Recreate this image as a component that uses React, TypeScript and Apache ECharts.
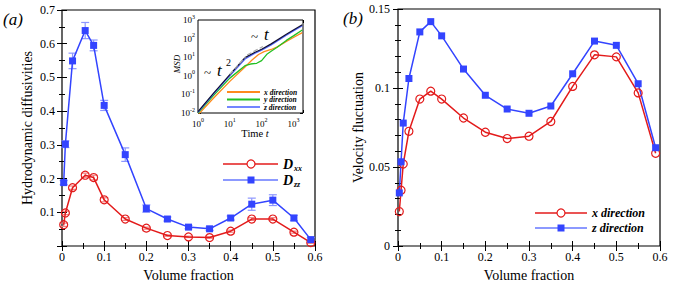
import React, { useEffect, useRef } from 'react';
import * as echarts from 'echarts';

const FONT = 'Liberation Serif, Times New Roman, serif';

// Panel (a): hydrodynamic diffusivities
const phiA = [0.004, 0.008, 0.025, 0.055, 0.075, 0.1, 0.15, 0.2, 0.25, 0.3, 0.35, 0.4, 0.45, 0.5, 0.55, 0.59];
const dxx = [0.063, 0.098, 0.173, 0.21, 0.203, 0.137, 0.08, 0.053, 0.031, 0.027, 0.025, 0.044, 0.08, 0.08, 0.041, 0.01];
const dxxErr = [0.005, 0.005, 0.005, 0.006, 0.007, 0.006, 0.004, 0.003, 0.002, 0.002, 0.002, 0.003, 0.004, 0.004, 0.003, 0.002];
const dzz = [0.188, 0.302, 0.549, 0.639, 0.595, 0.417, 0.271, 0.111, 0.08, 0.056, 0.051, 0.083, 0.124, 0.136, 0.083, 0.019];
const dzzErr = [0.006, 0.01, 0.023, 0.024, 0.016, 0.015, 0.02, 0.011, 0.006, 0.005, 0.005, 0.006, 0.018, 0.016, 0.008, 0.006];

// Panel (b): velocity fluctuation
const phiB = [0.003, 0.007, 0.012, 0.025, 0.05, 0.075, 0.1, 0.15, 0.2, 0.25, 0.3, 0.35, 0.4, 0.45, 0.5, 0.55, 0.59];
const vx = [0.0218, 0.0353, 0.0519, 0.0726, 0.093, 0.098, 0.093, 0.081, 0.072, 0.068, 0.0695, 0.0788, 0.101, 0.121, 0.1197, 0.0969, 0.0587];
const vz = [0.0336, 0.0533, 0.0778, 0.106, 0.1355, 0.142, 0.133, 0.112, 0.0954, 0.0867, 0.084, 0.0886, 0.109, 0.1297, 0.127, 0.1027, 0.0622];

// Inset: MSD vs time (log-log)
const tX = [1, 3, 10, 30, 50, 80, 120, 200, 300, 600, 1000, 1900];
const msdX = [0.008, 0.06, 0.5, 3.0, 7, 14, 20, 26, 35, 70, 115, 210];
const tY = [1, 3, 10, 30, 45, 70, 100, 150, 210, 300, 600, 1000, 1900];
const msdY = [0.01, 0.085, 0.75, 3.5, 4.3, 4.7, 6.5, 15, 22, 33, 80, 140, 290];
const tZ = [1, 3, 10, 30, 60, 100, 200, 600, 1000, 1900];
const msdZ = [0.011, 0.1, 1.0, 8, 16, 24, 45, 150, 260, 500];
const tAll = [1, 3, 10, 30, 60, 100, 200, 600, 1000, 1900];
const msdAll = [0.012, 0.11, 1.15, 9.5, 18, 27, 52, 170, 290, 560];
const tRef2 = [10, 32];
const msdRef2 = [1.2, 11];
const tRef1 = [35, 110];
const msdRef1 = [13, 38];

const RED = '#e31b1b';
const BLUE = '#3344ff';
const RED_ERR = '#f08080';
const BLUE_ERR = '#8c96ff';
const ORANGE = '#ff8a1c';
const GREEN = '#22c022';
const ZBLUE = '#5466ff';

const pairs = (xs: number[], ys: number[]) => xs.map((x, i) => [x, ys[i]]);
const triples = (xs: number[], ys: number[], es: number[]) => xs.map((x, i) => [x, ys[i], es[i]]);

const errRender = (color: string) => (params: any, api: any) => {
  const x = api.value(0);
  const y = api.value(1);
  const e = api.value(2);
  const p1 = api.coord([x, y + e]);
  const p2 = api.coord([x, y - e]);
  const w = 4;
  const style = { stroke: color, lineWidth: 1.2 };
  return {
    type: 'group',
    children: [
      { type: 'line', shape: { x1: p1[0], y1: p1[1], x2: p2[0], y2: p2[1] }, style },
      { type: 'line', shape: { x1: p1[0] - w, y1: p1[1], x2: p1[0] + w, y2: p1[1] }, style },
      { type: 'line', shape: { x1: p2[0] - w, y1: p2[1], x2: p2[0] + w, y2: p2[1] }, style },
    ],
  };
};

const tickLine = { color: '#000', width: 1 };

function valAxis(grid: number, pos: string, min: number, max: number, interval: number, minorSplit: number, label: any, name?: string, nameGap?: number) {
  return {
    type: 'value',
    gridIndex: grid,
    position: pos,
    min,
    max,
    interval,
    axisLine: { show: false },
    axisTick: { show: true, inside: true, length: 5, lineStyle: tickLine },
    minorTick: { show: true, splitNumber: minorSplit, length: 3, lineStyle: tickLine },
    splitLine: { show: false },
    minorSplitLine: { show: false },
    axisLabel: label,
    name: name || '',
    nameLocation: 'middle',
    nameGap: nameGap || 20,
    nameTextStyle: { fontFamily: FONT, fontSize: 14, color: '#000' },
  };
}

const lbl = (fmt: (v: number) => string, margin: number) => ({
  show: true,
  margin,
  fontFamily: FONT,
  fontSize: 12,
  color: '#000',
  formatter: fmt,
});
const noLbl = { show: false };
const fmtNum = (v: number) => String(+v.toFixed(3));

const isDecade = (v: number) => Math.abs(Math.log10(v) - Math.round(Math.log10(v))) < 0.01;
const logLbl = (margin: number) => ({
  show: true,
  margin,
  fontFamily: FONT,
  fontSize: 9,
  color: '#000',
  formatter: (v: number) => (isDecade(v) ? `{b|10}{s|${Math.round(Math.log10(v))}}` : ''),
  rich: {
    b: { fontFamily: FONT, fontSize: 9, color: '#000' },
    s: { fontFamily: FONT, fontSize: 6, color: '#000', padding: [0, 0, 7, 0] },
  },
});

function logAxis(grid: number, pos: string, min: number, max: number, label: any) {
  return {
    type: 'log',
    logBase: 10,
    gridIndex: grid,
    position: pos,
    min,
    max,
    axisLine: { show: false },
    axisTick: { show: true, inside: true, length: 3, lineStyle: tickLine },
    splitLine: { show: false },
    axisLabel: label,
  };
}

const txt = (x: number, y: number, text: string, font: string, extra: any = {}) => ({
  type: 'text',
  x,
  y,
  z: 100,
  style: { text, font, fill: '#000', verticalAlign: 'middle', align: 'left', ...extra },
});
const hline = (x1: number, x2: number, y: number, color: string, w = 1.5) => ({
  type: 'line',
  z: 100,
  shape: { x1, y1: y, x2, y2: y },
  style: { stroke: color, lineWidth: w },
});

const option: any = {
  animation: false,
  backgroundColor: '#fff',
  textStyle: { fontFamily: FONT },
  grid: [
    { left: 62, right: 363, top: 10, bottom: 38, show: true, borderColor: '#000', borderWidth: 1.2, backgroundColor: 'transparent' },
    { left: 398, right: 18, top: 9, bottom: 38, show: true, borderColor: '#000', borderWidth: 1.2, backgroundColor: 'transparent' },
    { left: 198, right: 375, top: 20, bottom: 174, show: true, borderColor: '#000', borderWidth: 1, backgroundColor: '#fff', z: 5 },
  ],
  xAxis: [
    valAxis(0, 'bottom', 0, 0.6, 0.1, 2, lbl(fmtNum, 5), 'Volume fraction', 22),
    valAxis(0, 'top', 0, 0.6, 0.1, 2, noLbl),
    valAxis(1, 'bottom', 0, 0.6, 0.1, 2, lbl(fmtNum, 5), 'Volume fraction', 22),
    valAxis(1, 'top', 0, 0.6, 0.1, 2, noLbl),
    logAxis(2, 'bottom', 1, 2000, logLbl(4)),
    logAxis(2, 'top', 1, 2000, noLbl),
  ],
  yAxis: [
    valAxis(0, 'left', 0, 0.7, 0.1, 2, lbl((v) => (v === 0 ? '' : fmtNum(v)), 7), 'Hydrodynamic diffusivities', 28),
    valAxis(0, 'right', 0, 0.7, 0.1, 2, noLbl),
    valAxis(1, 'left', 0, 0.15, 0.05, 5, lbl(fmtNum, 8), 'Velocity fluctuation', 33),
    valAxis(1, 'right', 0, 0.15, 0.05, 5, noLbl),
    logAxis(2, 'left', 0.01, 1000, logLbl(3)),
    logAxis(2, 'right', 0.01, 1000, noLbl),
  ],
  series: [
    { type: 'custom', xAxisIndex: 0, yAxisIndex: 0, renderItem: errRender(RED_ERR), data: triples(phiA, dxx, dxxErr), encode: { x: 0, y: 1 }, z: 1, clip: false },
    { type: 'custom', xAxisIndex: 0, yAxisIndex: 0, renderItem: errRender(BLUE_ERR), data: triples(phiA, dzz, dzzErr), encode: { x: 0, y: 1 }, z: 1, clip: false },
    {
      type: 'line', xAxisIndex: 0, yAxisIndex: 0, data: pairs(phiA, dxx),
      symbol: 'circle', symbolSize: 8,
      lineStyle: { color: RED, width: 1.5 },
      itemStyle: { color: 'rgba(255,255,255,0)', borderColor: RED, borderWidth: 1.2 },
      z: 3,
    },
    {
      type: 'line', xAxisIndex: 0, yAxisIndex: 0, data: pairs(phiA, dzz),
      symbol: 'rect', symbolSize: 7,
      lineStyle: { color: BLUE, width: 1.5 },
      itemStyle: { color: BLUE },
      z: 3,
    },
    {
      type: 'line', xAxisIndex: 2, yAxisIndex: 2, data: pairs(phiB, vx),
      symbol: 'circle', symbolSize: 8,
      lineStyle: { color: RED, width: 1.5 },
      itemStyle: { color: 'rgba(255,255,255,0)', borderColor: RED, borderWidth: 1.2 },
      z: 3,
    },
    {
      type: 'line', xAxisIndex: 2, yAxisIndex: 2, data: pairs(phiB, vz),
      symbol: 'rect', symbolSize: 7,
      lineStyle: { color: BLUE, width: 1.5 },
      itemStyle: { color: BLUE },
      z: 3,
    },
    { type: 'line', xAxisIndex: 4, yAxisIndex: 4, data: pairs(tX, msdX), showSymbol: false, lineStyle: { color: ORANGE, width: 1.3 }, z: 10 },
    { type: 'line', xAxisIndex: 4, yAxisIndex: 4, data: pairs(tY, msdY), showSymbol: false, lineStyle: { color: GREEN, width: 1.3 }, z: 10 },
    { type: 'line', xAxisIndex: 4, yAxisIndex: 4, data: pairs(tZ, msdZ), showSymbol: false, lineStyle: { color: ZBLUE, width: 1.3 }, z: 10 },
    { type: 'line', xAxisIndex: 4, yAxisIndex: 4, data: pairs(tAll, msdAll), showSymbol: false, lineStyle: { color: '#111133', width: 1.2 }, z: 11 },
    { type: 'line', xAxisIndex: 4, yAxisIndex: 4, data: pairs(tRef2, msdRef2), showSymbol: false, lineStyle: { color: '#aaaaaa', width: 1.2, type: 'dashed' }, z: 12 },
    { type: 'line', xAxisIndex: 4, yAxisIndex: 4, data: pairs(tRef1, msdRef1), showSymbol: false, lineStyle: { color: '#aaaaaa', width: 1.2, type: 'dashed' }, z: 12 },
  ],
  graphic: [
    txt(3, 19, '(a)', `italic 17px ${FONT}`),
    txt(343, 18, '(b)', `italic 17px ${FONT}`),
    // legend (a)
    hline(223, 278, 164, RED),
    { type: 'circle', z: 101, shape: { cx: 251, cy: 164, r: 4 }, style: { fill: '#fff', stroke: RED, lineWidth: 1.2 } },
    hline(223, 278, 180, '#6677ff'),
    { type: 'rect', z: 101, shape: { x: 247.5, y: 176.5, width: 7, height: 7 }, style: { fill: BLUE } },
    txt(283, 164, 'D', `italic bold 14px ${FONT}`),
    txt(294, 168, 'xx', `italic bold 8px ${FONT}`),
    txt(283, 180, 'D', `italic bold 14px ${FONT}`),
    txt(294, 184, 'zz', `italic bold 8px ${FONT}`),
    // legend (b)
    hline(535, 587, 213, RED),
    { type: 'circle', z: 101, shape: { cx: 561, cy: 213, r: 4 }, style: { fill: '#fff', stroke: RED, lineWidth: 1.2 } },
    hline(535, 587, 228, '#6677ff'),
    { type: 'rect', z: 101, shape: { x: 557.5, y: 224.5, width: 7, height: 7 }, style: { fill: BLUE } },
    txt(592, 213, 'x direction', `italic bold 12px ${FONT}`),
    txt(592, 228, 'z direction', `italic bold 12px ${FONT}`),
    // inset legend
    hline(227, 260, 92, ORANGE, 1.8),
    hline(227, 260, 99.5, GREEN, 1.8),
    hline(227, 260, 107, '#7385ff', 1.8),
    txt(264, 92, 'x direction', `italic bold 7.5px ${FONT}`),
    txt(264, 99.5, 'y direction', `italic bold 7.5px ${FONT}`),
    txt(264, 107, 'z direction', `italic bold 7.5px ${FONT}`),
    // inset annotations
    txt(204, 72, '~', `13px ${FONT}`),
    txt(217, 70, 't', `italic 17px ${FONT}`),
    txt(226, 62, '2', `10px ${FONT}`),
    txt(251, 36, '~', `13px ${FONT}`),
    txt(264, 34, 't', `italic 17px ${FONT}`),
    // inset axis names
    {
      type: 'text', x: 255, y: 133, z: 100,
      style: {
        text: '{a|Time }{b|t}', align: 'center', verticalAlign: 'middle',
        rich: {
          a: { fontFamily: FONT, fontSize: 10.5, fill: '#000' },
          b: { fontFamily: FONT, fontSize: 10.5, fontStyle: 'italic', fill: '#000' },
        },
      },
    },
    { type: 'text', x: 177, y: 64, z: 100, rotation: Math.PI / 2, style: { text: 'MSD', font: `italic 9px ${FONT}`, fill: '#000', align: 'center', verticalAlign: 'middle' } },
  ],
};

export default function App() {
  const ref = useRef<HTMLDivElement>(null);
  useEffect(() => {
    const chart = echarts.init(ref.current as HTMLDivElement, null, { renderer: 'svg' });
    chart.setOption(option);
    return () => chart.dispose();
  }, []);
  return <div ref={ref} style={{ position: 'absolute', left: 0, top: 0, width: 678, height: 287 }} />;
}
